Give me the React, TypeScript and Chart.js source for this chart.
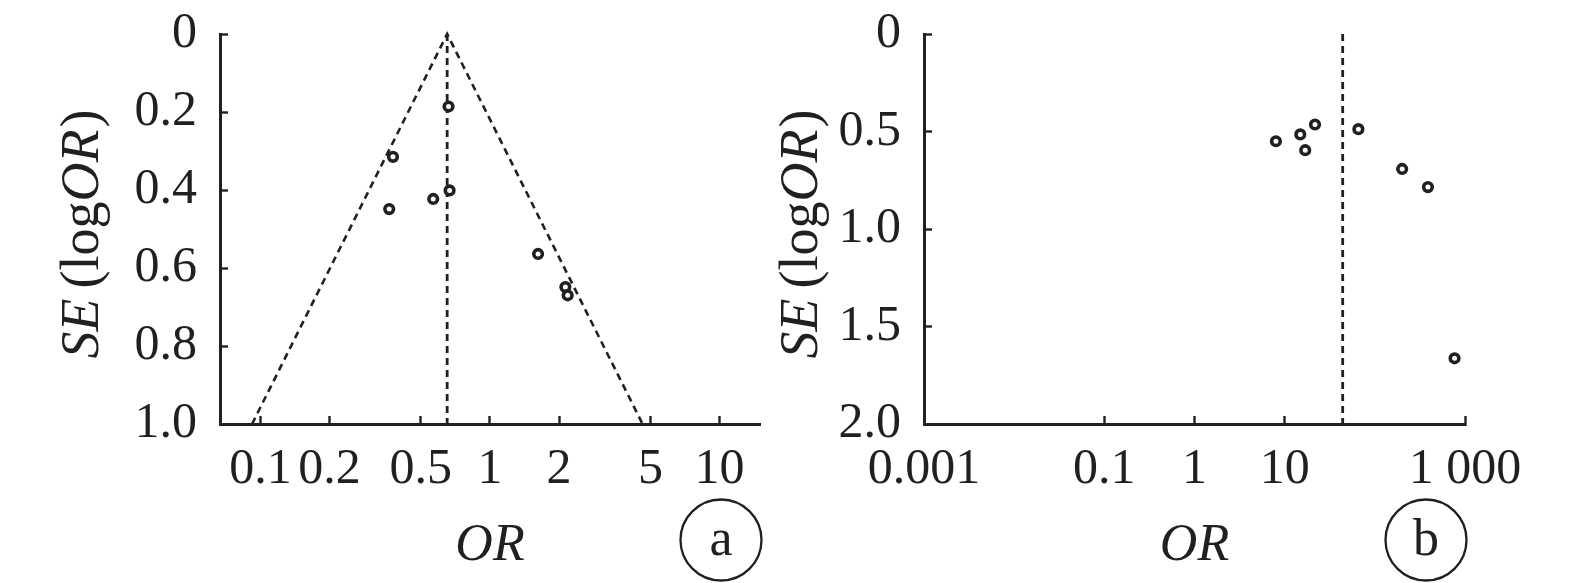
import React, { useEffect, useRef } from 'react';
import { Chart, registerables } from 'chart.js';

Chart.register(...registerables);

const INK = '#231f20';
const SERIF = "'Liberation Serif', 'Times New Roman', serif";

// ---------- Panel a ----------
const orA = [0.66, 0.378, 0.364, 0.566, 0.667, 1.62, 2.13, 2.18];
const seA = [0.186, 0.315, 0.449, 0.423, 0.401, 0.564, 0.649, 0.67];
const pooledA = 0.651;
const funnelOrA = [0.092, 0.651, 4.62];
const funnelSeA = [1.0, 0, 1.0];
const xTicksA = [0.1, 0.2, 0.5, 1, 2, 5, 10];
const xLabelsA = ['0.1', '0.2', '0.5', '1', '2', '5', '10'];
const yTicksA = [0, 0.2, 0.4, 0.6, 0.8, 1.0];
const yLabelsA = ['0', '0.2', '0.4', '0.6', '0.8', '1.0'];
const xRangeA = [0.0667, 15];
const yRangeA = [0, 1.0];

// ---------- Panel b ----------
const orB = [8.0, 14.9, 16.9, 21.7, 65.7, 201, 388, 766];
const seB = [0.55, 0.515, 0.596, 0.464, 0.488, 0.692, 0.785, 1.663];
const pooledB = 44;
const xTicksB = [0.001, 0.1, 1, 10, 1000];
const xLabelsB = ['0.001', '0.1', '1', '10', '1 000'];
const yTicksB = [0, 0.5, 1.0, 1.5, 2.0];
const yLabelsB = ['0', '0.5', '1.0', '1.5', '2.0'];
const xRangeB = [0.001, 1000];
const yRangeB = [0, 2.0];

const xTitle = 'OR';

type PanelSpec = {
  or: number[];
  se: number[];
  pooled: number;
  funnelOr: number[] | null;
  funnelSe: number[] | null;
  xTicks: number[];
  xLabels: string[];
  yTicks: number[];
  yLabels: string[];
  xRange: number[];
  yRange: number[];
  letter: string;
  left: number;
  width: number;
  yWidth: number;
  padRight: number;
  yTitleX: number;
};

const TOP = 34;
const BOTTOM_AXIS = 424;
const H = 583;

function decorPlugin(p: PanelSpec) {
  return {
    id: 'decor',
    afterDraw(chart: any) {
      const ctx = chart.ctx as CanvasRenderingContext2D;
      const area = chart.chartArea;
      ctx.save();
      ctx.fillStyle = INK;
      ctx.strokeStyle = INK;

      // x axis title
      ctx.font = `italic 52px ${SERIF}`;
      ctx.textAlign = 'center';
      ctx.textBaseline = 'alphabetic';
      ctx.fillText(xTitle, (area.left + area.right) / 2, 560);

      // panel letter in circle
      const cx = area.right - 39;
      const cy = 540;
      ctx.beginPath();
      ctx.lineWidth = 2.3;
      ctx.arc(cx, cy, 40.5, 0, Math.PI * 2);
      ctx.stroke();
      ctx.font = `52px ${SERIF}`;
      ctx.textAlign = 'center';
      ctx.textBaseline = 'middle';
      ctx.fillText(p.letter, cx, cy + 1);

      // y axis title: SE (logOR) with mixed italics
      const size = 54;
      const pieces = [
        { t: 'SE', it: true, gapAfter: 10 },
        { t: '(', it: false, gapAfter: 0 },
        { t: 'log', it: false, gapAfter: 0 },
        { t: 'OR', it: true, gapAfter: 2 },
        { t: ')', it: false, gapAfter: 0 },
      ];
      let total = 0;
      const widths: number[] = [];
      pieces.forEach((pc) => {
        ctx.font = `${pc.it ? 'italic ' : ''}${size}px ${SERIF}`;
        const w = ctx.measureText(pc.t).width;
        widths.push(w);
        total += w + pc.gapAfter;
      });
      const cyTitle = (area.top + area.bottom) / 2 + 5;
      ctx.translate(p.yTitleX, cyTitle);
      ctx.rotate(-Math.PI / 2);
      ctx.textAlign = 'left';
      ctx.textBaseline = 'alphabetic';
      let x = -total / 2;
      pieces.forEach((pc, i) => {
        ctx.font = `${pc.it ? 'italic ' : ''}${size}px ${SERIF}`;
        ctx.fillText(pc.t, x, 0);
        x += widths[i] + pc.gapAfter;
      });
      ctx.restore();
    },
  };
}

function makeConfig(p: PanelSpec): any {
  const datasets: any[] = [];
  if (p.funnelOr && p.funnelSe) {
    datasets.push({
      type: 'line',
      data: p.funnelOr.map((v, i) => ({ x: v, y: p.funnelSe![i] })),
      borderColor: INK,
      borderWidth: 2.6,
      borderDash: [7, 5],
      pointRadius: 0,
      fill: false,
      tension: 0,
      clip: false,
      order: 2,
    });
  }
  datasets.push({
    type: 'line',
    data: [
      { x: p.pooled, y: p.yRange[0] },
      { x: p.pooled, y: p.yRange[1] },
    ],
    borderColor: INK,
    borderWidth: 2.8,
    borderDash: [7, 5],
    pointRadius: 0,
    fill: false,
    clip: false,
    order: 2,
  });
  datasets.push({
    type: 'scatter',
    data: p.or.map((v, i) => ({ x: v, y: p.se[i] })),
    pointStyle: 'circle',
    pointRadius: 4.3,
    pointBorderWidth: 3.6,
    pointBorderColor: INK,
    pointBackgroundColor: '#ffffff',
    clip: false,
    order: 1,
  });

  const tickFont = { family: SERIF, size: 50 };
  const grid = {
    display: true,
    drawOnChartArea: false,
    drawTicks: true,
    tickLength: -8,
    tickWidth: 2.4,
    tickColor: INK,
    color: INK,
  };
  const border = { display: true, color: INK, width: 3 };
  const zeroPad = (s: any) => {
    s.paddingTop = 0;
    s.paddingBottom = 0;
    s.paddingLeft = 0;
    s.paddingRight = 0;
  };

  return {
    type: 'scatter',
    data: { datasets },
    options: {
      animation: false,
      responsive: false,
      events: [],
      layout: {
        autoPadding: false,
        padding: { left: 0, right: p.padRight, top: TOP, bottom: 0 },
      },
      plugins: {
        legend: { display: false },
        tooltip: { enabled: false },
        title: { display: false },
      },
      scales: {
        x: {
          type: 'logarithmic',
          position: 'bottom',
          min: p.xRange[0],
          max: p.xRange[1],
          afterFit: (s: any) => {
            s.height = H - BOTTOM_AXIS;
            zeroPad(s);
          },
          afterBuildTicks: (s: any) => {
            s.ticks = p.xTicks.map((v) => ({ value: v }));
          },
          ticks: {
            autoSkip: false,
            maxRotation: 0,
            minRotation: 0,
            padding: 24,
            color: INK,
            font: tickFont,
            callback: (_v: any, i: number) => p.xLabels[i],
          },
          grid,
          border,
        },
        y: {
          type: 'linear',
          position: 'left',
          reverse: true,
          min: p.yRange[0],
          max: p.yRange[1],
          afterFit: (s: any) => {
            s.width = p.yWidth;
            zeroPad(s);
          },
          afterBuildTicks: (s: any) => {
            s.ticks = p.yTicks.map((v) => ({ value: v }));
          },
          ticks: {
            autoSkip: false,
            padding: 31,
            color: INK,
            font: tickFont,
            callback: (_v: any, i: number) => p.yLabels[i],
          },
          grid,
          border,
        },
      },
    },
    plugins: [decorPlugin(p)],
  };
}

function Panel({ spec }: { spec: PanelSpec }) {
  const ref = useRef<HTMLCanvasElement | null>(null);
  useEffect(() => {
    if (!ref.current) return;
    const chart = new Chart(ref.current, makeConfig(spec));
    return () => chart.destroy();
  }, [spec]);
  return (
    <canvas
      ref={ref}
      width={spec.width}
      height={H}
      style={{ position: 'absolute', left: spec.left, top: 0, width: spec.width, height: H }}
    />
  );
}

const specA: PanelSpec = {
  or: orA,
  se: seA,
  pooled: pooledA,
  funnelOr: funnelOrA,
  funnelSe: funnelSeA,
  xTicks: xTicksA,
  xLabels: xLabelsA,
  yTicks: yTicksA,
  yLabels: yLabelsA,
  xRange: xRangeA,
  yRange: yRangeA,
  letter: 'a',
  left: 0,
  width: 787,
  yWidth: 220,
  padRight: 27,
  yTitleX: 98,
};

const specB: PanelSpec = {
  or: orB,
  se: seB,
  pooled: pooledB,
  funnelOr: null,
  funnelSe: null,
  xTicks: xTicksB,
  xLabels: xLabelsB,
  yTicks: yTicksB,
  yLabels: yLabelsB,
  xRange: xRangeB,
  yRange: yRangeB,
  letter: 'b',
  left: 740,
  width: 835,
  yWidth: 184,
  padRight: 110,
  yTitleX: 77,
};

export default function App() {
  return (
    <div
      style={{
        position: 'absolute',
        left: 0,
        top: 0,
        width: 1575,
        height: H,
        background: '#ffffff',
        overflow: 'hidden',
      }}
    >
      <Panel spec={specA} />
      <Panel spec={specB} />
    </div>
  );
}
